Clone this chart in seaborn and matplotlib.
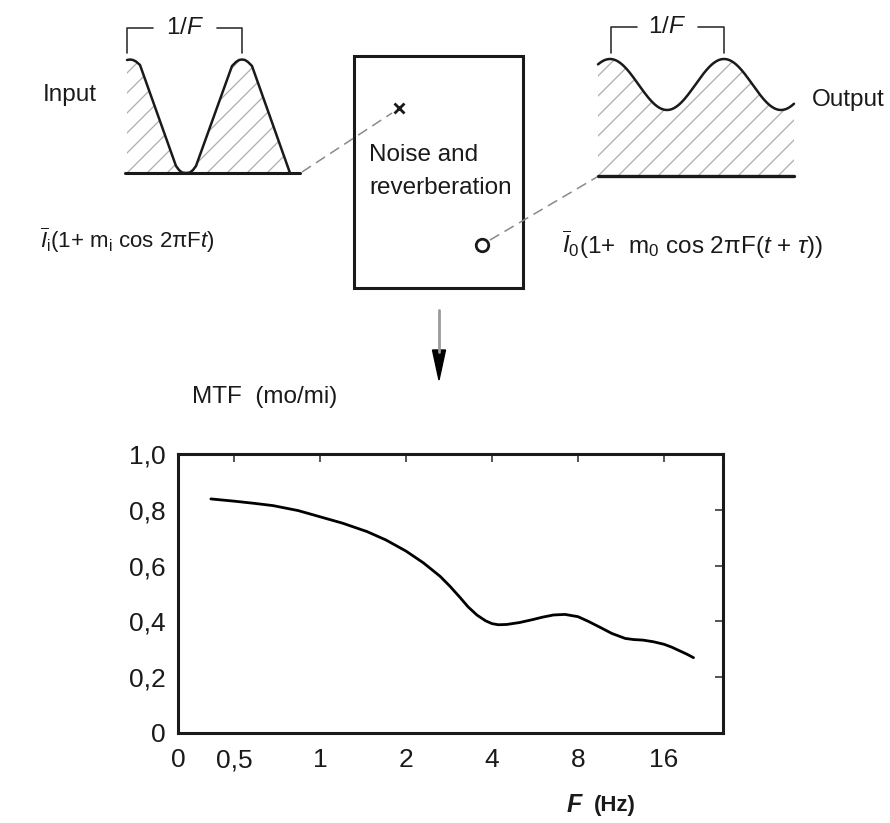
import numpy as np
import matplotlib
matplotlib.use("Agg")
import matplotlib.pyplot as plt
from matplotlib.patches import Rectangle, Polygon
import seaborn as sns

# ---------------- data ----------------
freq_hz = [0.415, 0.5, 0.59, 0.685, 0.84, 1.0, 1.2, 1.46, 1.7, 2.0, 2.3, 2.63, 2.85,
           3.09, 3.3, 3.54, 3.8, 4.0, 4.21, 4.5, 5.0, 5.58, 6.0, 6.56, 7.2, 8.0,
           8.7, 9.55, 10.5, 11.7, 12.5, 13.5, 14.7, 16.0, 17.0, 18.2, 19.2, 20.3]
mtf = [0.839, 0.831, 0.823, 0.815, 0.797, 0.775, 0.752, 0.722, 0.692, 0.652, 0.610,
       0.562, 0.526, 0.486, 0.452, 0.423, 0.402, 0.392, 0.388, 0.389, 0.396, 0.407,
       0.415, 0.423, 0.425, 0.417, 0.400, 0.379, 0.357, 0.339, 0.335, 0.333, 0.327,
       0.318, 0.308, 0.294, 0.283, 0.270]

x_tick_values = [0.5, 1, 2, 4, 8, 16]
x_tick_labels = ["0", "0,5", "1", "2", "4", "8", "16"]
y_tick_values = [0, 0.2, 0.4, 0.6, 0.8, 1.0]
y_tick_labels = ["0", "0,2", "0,4", "0,6", "0,8", "1,0"]

# schematic input waveform (pixel coordinates of the drawing)
in_wave_x = [127, 130, 133, 136, 140, 176, 179, 182, 186, 190, 193, 196,
             232, 236, 239, 242, 245, 248, 252, 290]
in_wave_y = [60, 59.5, 60, 61.5, 65, 166, 170, 172.5, 173, 172.5, 170, 166,
             66, 62, 60, 59.5, 60, 62, 66, 173]

# ---------------- style ----------------
sns.set_theme(style="white")
plt.rcParams["font.family"] = ["Liberation Sans", "DejaVu Sans"]
plt.rcParams["mathtext.fontset"] = "custom"
plt.rcParams["mathtext.rm"] = "Liberation Sans"
plt.rcParams["mathtext.it"] = "Liberation Sans:italic"
plt.rcParams["mathtext.bf"] = "Liberation Sans:bold"

fig = plt.figure(figsize=(8.9, 8.23), dpi=100)
fig.patch.set_facecolor("white")

bg = fig.add_axes([0, 0, 1, 1])
bg.set_xlim(0, 890)
bg.set_ylim(823, 0)
bg.axis("off")

ink = "#1a1a1a"
hatch_col = "#adadad"


def hatch_region(xs, ys, base, step=20):
    verts = np.column_stack([list(xs) + [xs[-1], xs[0]], list(ys) + [base, base]])
    poly = Polygon(verts, closed=True, facecolor="none", edgecolor="none")
    bg.add_patch(poly)
    x0, x1 = min(xs), max(xs)
    for c in np.arange(x0 + base - 200, x1 + base + 200, step):
        ln, = bg.plot([x0 - 5, x1 + 5], [c - (x0 - 5), c - (x1 + 5)],
                      color=hatch_col, lw=0.9)
        ln.set_clip_path(poly)


# --- input waveform ---
hatch_region(in_wave_x, in_wave_y, 173)
bg.plot(in_wave_x, in_wave_y, color=ink, lw=1.8, solid_capstyle="round")
bg.plot([125, 300], [173, 173], color=ink, lw=2.2)
bg.plot([127, 127, 153], [53, 28, 28], color="#333333", lw=1.2)
bg.plot([217, 242, 242], [28, 28, 53], color="#333333", lw=1.2)
bg.text(185, 28, r"1/$F$", fontsize=17.5, ha="center", va="center", color=ink)
bg.text(43, 95, "Input", fontsize=17.5, ha="left", va="center", color=ink)
bg.text(40, 240, r"$\overline{I}_{\mathrm{i}}$(1+ m$_{\mathrm{i}}$ cos 2πF$t$)",
        fontsize=16, ha="left", va="center", color=ink)

# --- output waveform ---
ox = np.linspace(598, 794, 200)
oy = 84.5 - 25.5 * np.cos(2 * np.pi * (ox - 610) / 114)
hatch_region(ox, oy, 176)
bg.plot(ox, oy, color=ink, lw=1.8)
bg.plot([598, 794], [176, 176], color=ink, lw=2.4)
bg.plot([611, 611, 637], [53, 27, 27], color="#333333", lw=1.2)
bg.plot([698, 724, 724], [27, 27, 53], color="#333333", lw=1.2)
bg.text(667, 27, r"1/$F$", fontsize=17.5, ha="center", va="center", color=ink)
bg.text(812, 100, "Output", fontsize=17.5, ha="left", va="center", color=ink)
bg.text(562, 245, r"$\overline{I}_{0}$(1+  m$_{0}$ cos 2πF($t$ + $\tau$))",
        fontsize=17.5, ha="left", va="center", color=ink)

# --- box ---
bg.add_patch(Rectangle((354, 56), 169, 232, fill=False, lw=2.2, edgecolor=ink))
bg.text(369, 155, "Noise and", fontsize=17.5, ha="left", va="center", color=ink)
bg.text(369, 188, "reverberation", fontsize=17.5, ha="left", va="center", color=ink)
bg.plot([399], [108], marker="x", ms=7, mew=2, color=ink)
bg.plot([482], [245], marker="o", ms=9, mew=2, mfc="white", mec=ink)
bg.plot([302, 392], [172, 113], color="#8a8a8a", lw=1.1, dashes=(7, 4))
bg.plot([490, 597], [240, 177], color="#8a8a8a", lw=1.1, dashes=(7, 4))

# --- arrow ---
bg.plot([439, 439], [310, 352], color="#9a9a9a", lw=2)
bg.fill([432.5, 445.5, 439], [350, 350, 380], color="black")

bg.text(192, 397, "MTF  (mo/mi)", fontsize=17.5, ha="left", va="center", color=ink)

# ---------------- MTF plot ----------------
ax = fig.add_axes([178 / 890, (823 - 733) / 823, (723 - 178) / 890, (733 - 454) / 823])
ax.set_xscale("log", base=2)
sns.lineplot(x=freq_hz, y=mtf, ax=ax, color="black", linewidth=2.0, sort=False)

xmin = 2 ** ((178 - 320) / 86)
xmax = 2 ** ((723 - 320) / 86)
ax.set_xlim(xmin, xmax)
ax.set_ylim(0, 1.0)
ax.set_xticks([xmin] + x_tick_values)
ax.set_xticklabels(x_tick_labels)
ax.xaxis.set_minor_locator(matplotlib.ticker.NullLocator())
ax.set_yticks(y_tick_values)
ax.set_yticklabels(y_tick_labels)
ax.tick_params(axis="both", which="major", direction="in", length=6, width=1.4,
               color="#555555", top=True, right=True, labelsize=19, labelcolor=ink)
ax.tick_params(axis="x", pad=11)
ax.tick_params(axis="y", pad=9)
for s in ax.spines.values():
    s.set_visible(True)
    s.set_linewidth(2.2)
    s.set_color(ink)
ax.set_xlabel("")
ax.set_ylabel("")

bg.text(567, 805, "F", fontsize=18, fontweight="bold", fontstyle="italic",
        ha="left", va="center", color=ink)
bg.text(594, 806, "(Hz)", fontsize=16, fontweight="bold", ha="left", va="center", color=ink)

fig.savefig("out.png", dpi=100, facecolor="white")
